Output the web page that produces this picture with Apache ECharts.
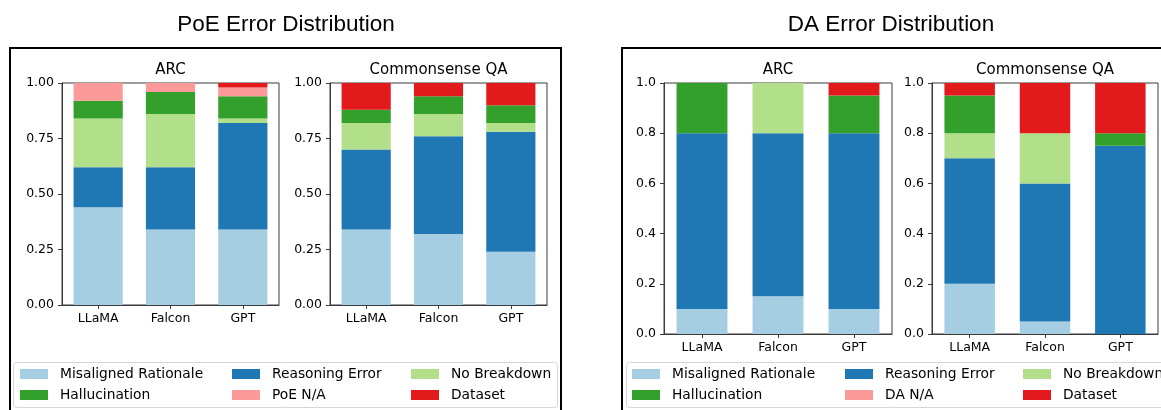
<!DOCTYPE html>
<html>
<head>
<meta charset="utf-8">
<script src="https://cdn.jsdelivr.net/npm/echarts@6/dist/echarts.min.js"></script>
<style>html,body{margin:0;padding:0;background:#fff;}#c{width:1161px;height:410px;}</style>
</head>
<body>
<div id="c"></div>
<script>
// ---- data ----
const models = ['LLaMA', 'Falcon', 'GPT'];
const poeNames = ['Misaligned Rationale', 'Reasoning Error', 'No Breakdown', 'Hallucination', 'PoE N/A', 'Dataset'];
const daNames  = ['Misaligned Rationale', 'Reasoning Error', 'No Breakdown', 'Hallucination', 'DA N/A', 'Dataset'];
const colors = ['#a6cee3', '#1f78b4', '#b2df8a', '#33a02c', '#fb9a99', '#e31a1c'];
// rows follow the name order above; columns follow models
const poeArc = [
  [0.44, 0.34, 0.34],
  [0.18, 0.28, 0.48],
  [0.22, 0.24, 0.02],
  [0.08, 0.10, 0.10],
  [0.08, 0.04, 0.04],
  [0.00, 0.00, 0.02]
];
const poeCqa = [
  [0.34, 0.32, 0.24],
  [0.36, 0.44, 0.54],
  [0.12, 0.10, 0.04],
  [0.06, 0.08, 0.08],
  [0.00, 0.00, 0.00],
  [0.12, 0.06, 0.10]
];
const daArc = [
  [0.10, 0.15, 0.10],
  [0.70, 0.65, 0.70],
  [0.00, 0.20, 0.00],
  [0.20, 0.00, 0.15],
  [0.00, 0.00, 0.00],
  [0.00, 0.00, 0.05]
];
const daCqa = [
  [0.20, 0.05, 0.00],
  [0.50, 0.55, 0.75],
  [0.10, 0.20, 0.00],
  [0.15, 0.00, 0.05],
  [0.00, 0.00, 0.00],
  [0.05, 0.20, 0.20]
];
const poeTicks = [0, 1, 0.25];
const daTicks = [0, 1, 0.2];

// ---- layout ----
const FONT = 'DejaVu Sans';
const panels = [
  {title: 'ARC', data: poeArc, names: poeNames, ticks: poeTicks, dec: 2, left: 62, top: 83, width: 217, height: 222, bw: '68%'},
  {title: 'Commonsense QA', data: poeCqa, names: poeNames, ticks: poeTicks, dec: 2, left: 330, top: 83, width: 217, height: 222, bw: '68%'},
  {title: 'ARC', data: daArc, names: daNames, ticks: daTicks, dec: 1, left: 664, top: 83, width: 228, height: 251, bw: '67%'},
  {title: 'Commonsense QA', data: daCqa, names: daNames, ticks: daTicks, dec: 1, left: 932, top: 83, width: 226, height: 251, bw: '67%'}
];

const grid = [], xAxis = [], yAxis = [], series = [], title = [];
panels.forEach((p, i) => {
  grid.push({left: p.left, top: p.top, width: p.width, height: p.height, show: true,
    borderColor: '#3a3a3a', borderWidth: 1, backgroundColor: 'transparent'});
  xAxis.push({type: 'category', gridIndex: i, data: models,
    axisLine: {show: true, lineStyle: {color: '#3a3a3a', width: 1}},
    axisTick: {show: true, alignWithLabel: true, length: 4, lineStyle: {color: '#3a3a3a'}},
    axisLabel: {color: '#000', fontFamily: FONT, fontSize: 12.5, margin: 7},
    splitLine: {show: false}});
  yAxis.push({type: 'value', gridIndex: i, min: p.ticks[0], max: p.ticks[1], interval: p.ticks[2],
    axisLine: {show: true, lineStyle: {color: '#3a3a3a', width: 1}},
    axisTick: {show: true, length: 4, lineStyle: {color: '#3a3a3a'}},
    axisLabel: {color: '#000', fontFamily: FONT, fontSize: 12.5, margin: 8,
      formatter: v => v.toFixed(p.dec)},
    splitLine: {show: false}});
  title.push({text: p.title, left: p.left + p.width / 2, top: 63, textAlign: 'center', padding: 0,
    textStyle: {fontFamily: FONT, fontSize: 15, fontWeight: 'normal', color: '#000'}});
  p.names.forEach((n, k) => {
    series.push({type: 'bar', name: n, xAxisIndex: i, yAxisIndex: i, stack: 's' + i,
      data: p.data[k], barWidth: p.bw, itemStyle: {color: colors[k]}, emphasis: {disabled: true}});
  });
});

title.push({text: 'PoE Error Distribution', left: 286, top: 13, textAlign: 'center', padding: 0,
  textStyle: {fontFamily: 'Liberation Sans', fontSize: 22.5, fontWeight: 'normal', color: '#000'}});
title.push({text: 'DA Error Distribution', left: 891, top: 13, textAlign: 'center', padding: 0,
  textStyle: {fontFamily: 'Liberation Sans', fontSize: 22.5, fontWeight: 'normal', color: '#000'}});

function legendCol(left, names) {
  return {left: left, top: 367, orient: 'vertical', padding: 0, itemGap: 7,
    itemWidth: 28, itemHeight: 10, icon: 'rect', selectedMode: false,
    data: names.map(n => ({name: n, itemStyle: {color: colors[poeNames.indexOf(n) >= 0 ? poeNames.indexOf(n) : daNames.indexOf(n)]}})),
    textStyle: {fontFamily: FONT, fontSize: 13.8, color: '#000', padding: [0, 0, 0, 7]}};
}
const legend = [
  legendCol(20, [poeNames[0], poeNames[3]]),
  legendCol(232, [poeNames[1], poeNames[4]]),
  legendCol(411, [poeNames[2], poeNames[5]]),
  legendCol(632, [daNames[0], daNames[3]]),
  legendCol(845, [daNames[1], daNames[4]]),
  legendCol(1023, [daNames[2], daNames[5]])
];

const graphic = [
  {type: 'rect', shape: {x: 10, y: 48, width: 551, height: 420}, style: {fill: 'none', stroke: '#000', lineWidth: 2}, z: 0, silent: true},
  {type: 'rect', shape: {x: 622, y: 48, width: 600, height: 420}, style: {fill: 'none', stroke: '#000', lineWidth: 2}, z: 0, silent: true},
  {type: 'rect', shape: {x: 13.5, y: 362.5, width: 544, height: 45, r: 3}, style: {fill: '#fff', stroke: '#d6d6d6', lineWidth: 1}, z: 0, silent: true},
  {type: 'rect', shape: {x: 626.5, y: 362.5, width: 600, height: 45, r: 3}, style: {fill: '#fff', stroke: '#d6d6d6', lineWidth: 1}, z: 0, silent: true}
];

const chart = echarts.init(document.getElementById('c'), null, {renderer: 'canvas'});
chart.setOption({animation: false, backgroundColor: '#fff', title, grid, xAxis, yAxis, series, legend, graphic});
</script>
</body>
</html>
